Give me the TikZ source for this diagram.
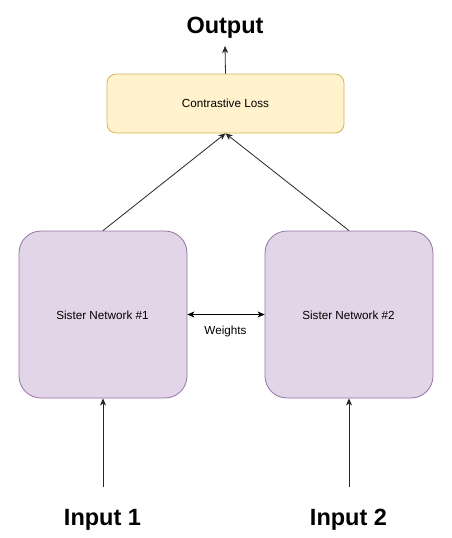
\documentclass[tikz,border=0pt]{standalone}
\usepackage{fontspec}
\setmainfont{Liberation Sans}
\usetikzlibrary{arrows.meta}
\definecolor{lossfill}{HTML}{FFF2CC}
\definecolor{lossdraw}{HTML}{D6B656}
\definecolor{sisfill}{HTML}{E1D5E7}
\definecolor{sisdraw}{HTML}{9673A6}
\begin{document}
\begin{tikzpicture}[x=1pt,y=-1pt,
  conn/.style={draw=black!85, line width=0.8pt, -{Stealth[length=7pt,width=6pt,inset=2pt]}},
  biconn/.style={draw=black, line width=0.8pt, {Stealth[length=7pt,width=6pt,inset=2pt]}-{Stealth[length=7pt,width=6pt,inset=2pt]}},
  lossbox/.style={draw=lossdraw, fill=lossfill, line width=0.8pt, rounded corners=9pt, minimum width=237pt, minimum height=59pt, inner sep=0pt},
  sisbox/.style={draw=sisdraw, fill=sisfill, line width=0.8pt, rounded corners=22pt, minimum width=168pt, minimum height=167pt, inner sep=0pt},
  small/.style={font=\fontsize{11.7}{14}\selectfont, inner sep=0pt, anchor=base},
  big/.style={font=\fontsize{23.5}{28}\selectfont\bfseries, inner sep=0pt, anchor=base}
]
\useasboundingbox[fill=white] (0,0) rectangle (451,538);
\node[lossbox] (loss) at (225.5,103.5) {};
\node[small] (losst) at (225.5,107.5) {Contrastive Loss};
\node[sisbox] (s1) at (103,314.5) {};
\node[sisbox] (s2) at (349,314.5) {};
\node[small] (s1t) at (102.5,319.5) {Sister Network \#1};
\node[small] (s2t) at (348.5,319.5) {Sister Network \#2};
\node[small] (w) at (225.5,334) {Weights};
\node[big] (out) at (225,33) {Output};
\node[big] (in1) at (102.5,525) {Input 1};
\node[big] (in2) at (348.5,525) {Input 2};
\coordinate (otip) at (225,46);
\coordinate (i1) at (103,487);
\coordinate (i2) at (349,487);
\draw[conn] (loss.north) -- (otip);
\draw[conn] (s1.north) -- (loss.south);
\draw[conn] (s2.north) -- (loss.south);
\draw[biconn] (s1.east) -- (s2.west);
\draw[conn] (i1) -- (s1.south);
\draw[conn] (i2) -- (s2.south);
\end{tikzpicture}
\end{document}
